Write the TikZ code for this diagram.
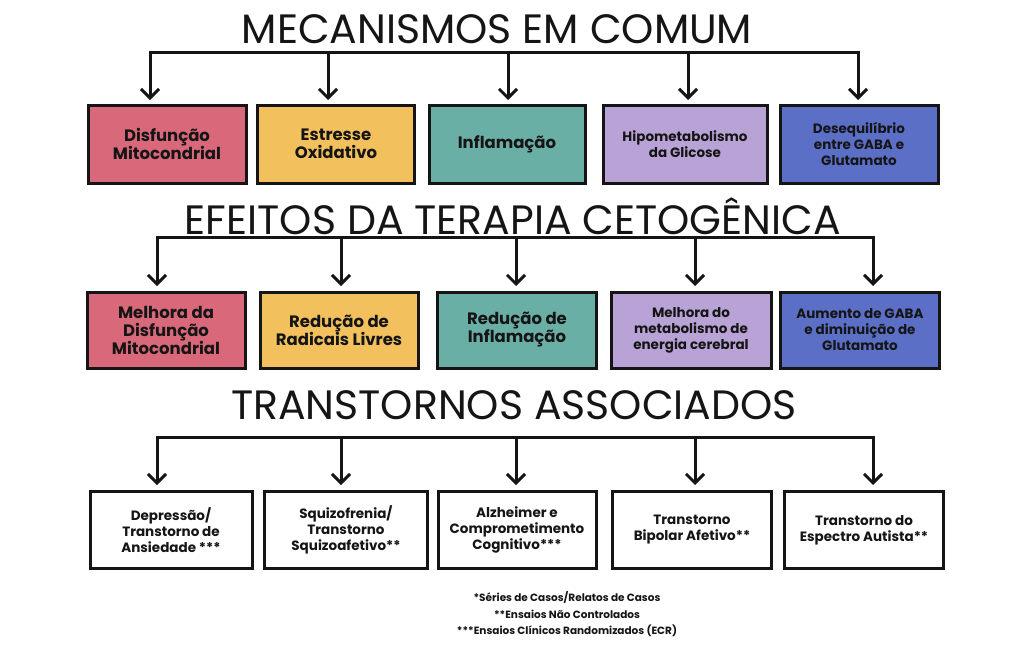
\documentclass[tikz,border=0pt]{standalone}
\usepackage{fontspec}
\setmainfont{Poppins}
\usetikzlibrary{arrows.meta}
\definecolor{cr}{HTML}{D9687A}
\definecolor{cy}{HTML}{F2C05C}
\definecolor{ct}{HTML}{6AAFA5}
\definecolor{cl}{HTML}{B9A3D6}
\definecolor{cb}{HTML}{5B6FC6}
\definecolor{ink}{HTML}{151515}
\begin{document}
\begin{tikzpicture}[x=1pt,y=-1pt,
 bx/.style={draw=ink,line width=3pt,align=center,font=\fontsize{16.5}{18}\selectfont\bfseries,text=ink,inner sep=0pt},
 sbx/.style={bx,font=\fontsize{13.5}{16}\selectfont\bfseries},
 ttl/.style={font=\fontsize{41}{44}\selectfont,text=ink},
 ln/.style={draw=ink,line width=3pt},
 ar/.style={ln,-{Straight Barb[length=9pt,width=18pt]}},
 fn/.style={font=\fontsize{10.5}{12}\selectfont\bfseries,text=ink}]
\useasboundingbox (0,0) rectangle (1024,651);
\fill[white] (0,0) rectangle (1024,651);
\node[ttl] (t1) at (497,29) {MECANISMOS EM COMUM};
\node[ttl] (t2) at (513,216) {EFEITOS DA TERAPIA CETOGÊNICA};
\node[ttl] (t3) at (514,405) {TRANSTORNOS ASSOCIADOS};
% row1
\node[bx,fill=cr,minimum width=158pt,minimum height=78pt] (a1) at (167,144) {Disfunção\\Mitocondrial};
\node[bx,fill=cy,minimum width=157pt,minimum height=78pt] (a2) at (336,144) {Estresse\\Oxidativo};
\node[bx,fill=ct,minimum width=156pt,minimum height=78pt] (a3) at (507,144) {Inflamação};
\node[sbx,fill=cl,minimum width=164pt,minimum height=78pt] (a4) at (685,144) {Hipometabolismo\\da Glicose};
\node[sbx,fill=cb,minimum width=158pt,minimum height=78pt] (a5) at (859,144) {Desequilíbrio\\entre GABA e\\Glutamato};
% row2
\node[bx,fill=cr,minimum width=158pt,minimum height=76pt] (b1) at (166,330) {Melhora da\\Disfunção\\Mitocondrial};
\node[bx,fill=cy,minimum width=158pt,minimum height=76pt] (b2) at (339,330) {Redução de\\Radicais Livres};
\node[bx,fill=ct,minimum width=159pt,minimum height=76pt] (b3) at (517,330) {Redução de\\Inflamação};
\node[sbx,fill=cl,minimum width=160pt,minimum height=76pt] (b4) at (691,330) {Melhora do\\metabolismo de\\energia cerebral};
\node[sbx,fill=cb,minimum width=159pt,minimum height=76pt] (b5) at (860,330) {Aumento de GABA\\e diminuição de\\Glutamato};
% row3
\node[sbx,fill=white,minimum width=162pt,minimum height=77pt] (c1) at (171,530) {Depressão/\\Transtorno de\\Ansiedade ***};
\node[sbx,fill=white,minimum width=163pt,minimum height=77pt] (c2) at (346,530) {Squizofrenia/\\Transtorno\\Squizoafetivo**};
\node[sbx,fill=white,minimum width=158pt,minimum height=77pt] (c3) at (517,530) {Alzheimer e\\Comprometimento\\Cognitivo***};
\node[sbx,fill=white,minimum width=159pt,minimum height=77pt] (c4) at (692,530) {Transtorno\\Bipolar Afetivo**};
\node[sbx,fill=white,minimum width=159pt,minimum height=77pt] (c5) at (864,530) {Transtorno do\\Espectro Autista**};
% connectors
\draw[ln] (150,52) -- (858,52);
\foreach \x in {150,328,508,688,858}{\draw[ar] (\x,50.5) -- (\x,100);}
\draw[ln] (157,237) -- (873,237);
\foreach \x in {157,341,516,695,873}{\draw[ar] (\x,235.5) -- (\x,286);}
\draw[ln] (157,437) -- (873,437);
\foreach \x in {157,341,516,695,873}{\draw[ar] (\x,435.5) -- (\x,485);}
\node[fn] (f1) at (567,597) {*Séries de Casos/Relatos de Casos};
\node[fn] (f2) at (567,614) {**Ensaios Não Controlados};
\node[fn] (f3) at (567,631) {***Ensaios Clínicos Randomizados (ECR)};
\end{tikzpicture}
\end{document}
